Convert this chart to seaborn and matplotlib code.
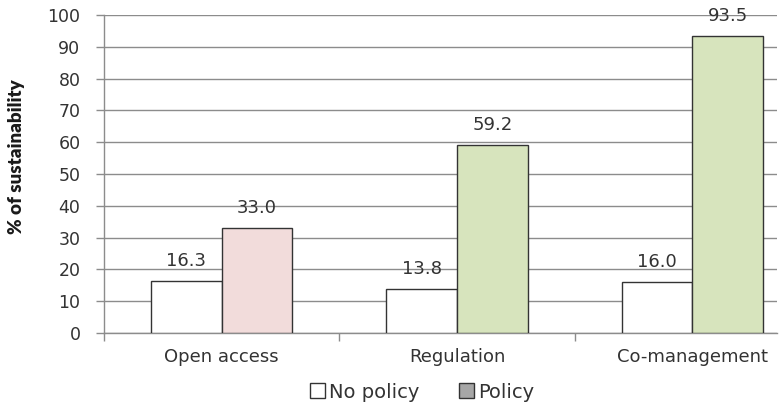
import matplotlib
matplotlib.use("Agg")
import matplotlib.pyplot as plt
from matplotlib.patches import Patch
import seaborn as sns
import pandas as pd

categories = ["Open access", "Regulation", "Co-management"]
no_policy = [16.3, 13.8, 16.0]
policy = [33.0, 59.2, 93.5]
policy_colors = ["#F2DCDB", "#D7E4BD", "#D7E4BD"]
series = ["No policy", "Policy"]
yticks = [0, 10, 20, 30, 40, 50, 60, 70, 80, 90, 100]

df = pd.DataFrame({
    "scenario": categories * 2,
    "value": no_policy + policy,
    "series": [series[0]] * 3 + [series[1]] * 3,
})

sns.set_theme(style="white")
plt.rcParams["font.family"] = ["DejaVu Sans"]

fig = plt.figure(figsize=(7.81, 4.04), dpi=100)
ax = fig.add_axes([104 / 781, 1 - 333 / 404, (777 - 104) / 781, (333 - 15) / 404])

sns.barplot(data=df, x="scenario", y="value", hue="series", order=categories,
            hue_order=series, palette={"No policy": "white", "Policy": "#D7E4BD"},
            width=0.6, edgecolor="#333333", linewidth=1.0, ax=ax, legend=False,
            zorder=3)

for patch, c in zip(ax.containers[1], policy_colors):
    patch.set_facecolor(c)

for cont in ax.containers:
    ax.bar_label(cont, fmt="%.1f", padding=8, fontsize=13, color="#333333")

ax.set_ylim(0, 100)
ax.set_xlim(-0.5, 2.36)
ax.set_yticks(yticks)
ax.yaxis.grid(True, color="#8C8C8C", linewidth=1.0, zorder=0)
ax.set_axisbelow(True)
for s in ["top", "right"]:
    ax.spines[s].set_visible(False)
for s in ["left", "bottom"]:
    ax.spines[s].set_color("#8C8C8C")
    ax.spines[s].set_linewidth(1.0)

ax.tick_params(axis="y", which="major", left=True, length=6, width=1.0,
               color="#8C8C8C", labelsize=12.5, labelcolor="#333333", pad=11)
ax.set_xticks([0, 1, 2])
ax.set_xticklabels(categories)
ax.set_xticks([-0.5, 0.5, 1.5], minor=True)
ax.tick_params(axis="x", which="major", bottom=False, length=0, labelsize=13,
               labelcolor="#333333", pad=11)
ax.tick_params(axis="x", which="minor", bottom=True, length=6, width=1.0,
               color="#8C8C8C")

ax.set_xlabel("")
ax.set_ylabel("% of sustainability", fontsize=13.5, fontweight="heavy",
              family=["Lato", "DejaVu Sans"], color="#1a1a1a")
ax.yaxis.set_label_coords(-0.117, 0.555)

handles = [Patch(facecolor="white", edgecolor="#333333", linewidth=1.0),
           Patch(facecolor="#A6A6A6", edgecolor="#333333", linewidth=1.0)]
fig.legend(handles, series, loc="center", bbox_to_anchor=(422 / 781, 1 - 392 / 404),
           ncol=2, frameon=False, fontsize=14, handlelength=0.8,
           handleheight=0.8, handletextpad=0.2, columnspacing=2.0,
           labelcolor="#333333")

fig.savefig("out.png", dpi=100)
